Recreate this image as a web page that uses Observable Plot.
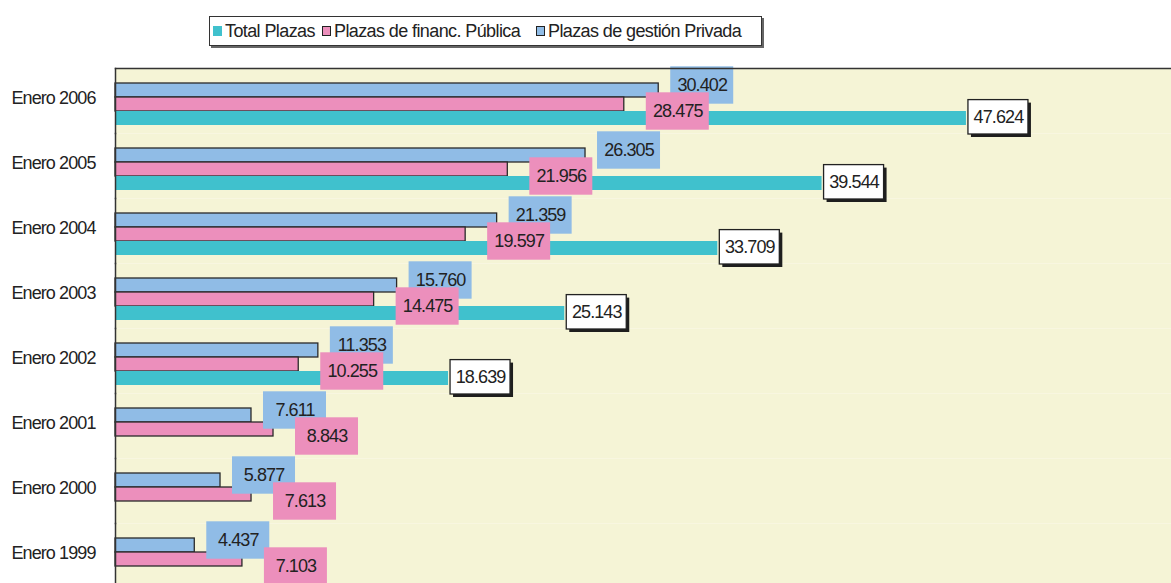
<!DOCTYPE html>
<html><head><meta charset="utf-8">
<script src="https://cdn.jsdelivr.net/npm/d3@7"></script>
<script src="https://cdn.jsdelivr.net/npm/@observablehq/plot@0.6"></script>
<style>
html,body{margin:0;padding:0;background:#fff;overflow:hidden;width:1171px;height:583px}
#legend{position:relative;height:62px;font-family:"Liberation Sans Narrow","Liberation Sans",Arial,sans-serif;font-size:18px;letter-spacing:-0.6px;color:#222;white-space:nowrap}
#legend .box{position:absolute;left:209px;top:16px;width:551px;height:28px;border:1.5px solid #333;box-shadow:2px 2px 0 #666;background:#fff}
#legend .item{position:absolute;top:0;height:28px;display:flex;align-items:center}
#legend .sw{width:9px;height:10px;margin-right:3px;box-sizing:border-box}
#chart svg{display:block}
svg text{letter-spacing:-0.9px}
</style>
</head><body>
<div id="legend"><div class="box"></div></div>
<div id="chart"></div>
<script>
const years = ["Enero 2006","Enero 2005","Enero 2004","Enero 2003","Enero 2002","Enero 2001","Enero 2000","Enero 1999"];
const series = ["Total Plazas","Plazas de financ. Pública","Plazas de gestión Privada"];
const total   = [47624, 39544, 33709, 25143, 18639, null, null, null];
const publica = [28475, 21956, 19597, 14475, 10255, 8843, 7613, 7103];
const privada = [30402, 26305, 21359, 15760, 11353, 7611, 5877, 4437];
const colors = {"Total Plazas":"#40c1cd","Plazas de financ. Pública":"#ec8fbc","Plazas de gestión Privada":"#90bce6"};
const beige = "#f5f4d6";
const font = '"Liberation Sans Narrow","Liberation Sans",Arial,sans-serif';

// legend
const box = document.querySelector("#legend .box");
const itemLeft = [3, 112, 326];
series.forEach((s, i) => {
  const it = document.createElement("div"); it.className = "item";
  it.style.left = itemLeft[i] + "px";
  const sw = document.createElement("div"); sw.className = "sw";
  sw.style.background = colors[s];
  if (i > 0) sw.style.border = "1.3px solid #222";
  const t = document.createElement("span"); t.textContent = s;
  it.append(sw, t); box.append(it);
});

const rows = years.flatMap((yr, i) => [
  {year: yr, serie: series[2], value: privada[i]},
  {year: yr, serie: series[1], value: publica[i]},
  {year: yr, serie: series[0], value: total[i]}
]).filter(d => d.value != null);
const priv = rows.filter(d => d.serie === series[2]);
const pub = rows.filter(d => d.serie === series[1]);
const tot = rows.filter(d => d.serie === series[0]);

const loc = d3.formatLocale({decimal: ",", thousands: ".", grouping: [3], currency: ["", ""]});
const fmt = loc.format(",");
const lbl = d => fmt(d.value);

const common = {x: "value", y: "serie", fy: "year"};
const txt = {fontSize: 18, fill: "#222", textAnchor: "middle", fontFamily: font};

const chart = Plot.plot({
  width: 1171, height: 526,
  marginLeft: 115, marginRight: 0, marginTop: 6, marginBottom: 0,
  style: {fontFamily: font, fontSize: "18px", color: "#222", background: "transparent"},
  x: {domain: [0, 59100], axis: null},
  y: {domain: [series[2], series[1], series[0]], paddingInner: 0, paddingOuter: 0.72, align: 0.667, axis: null},
  fy: {domain: years, padding: 0, axis: null, label: null},
  marks: [
    Plot.frame({fill: beige, stroke: null}),
    Plot.axisFy({anchor: "left", tickSize: 0, tickPadding: 20, fontSize: 18, dy: -3, label: null}),
    Plot.barX(priv, {...common, fill: colors[series[2]], stroke: "#2a2a2a", strokeWidth: 1.3}),
    Plot.barX(pub, {...common, fill: colors[series[1]], stroke: "#2a2a2a", strokeWidth: 1.3}),
    Plot.barX(tot, {...common, fill: colors[series[0]]}),
    // private labels
    Plot.barX(priv, {x1: "value", x2: "value", y: "serie", fy: "year", fill: colors[series[2]], insetLeft: 12, insetRight: -75, insetTop: -16.7, insetBottom: -6.7}),
    Plot.text(priv, {...common, text: lbl, dx: 43.5, dy: -5, ...txt}),
    // public labels
    Plot.barX(pub, {x1: "value", x2: "value", y: "serie", fy: "year", fill: colors[series[1]], insetLeft: 22, insetRight: -85, insetTop: -4.7, insetBottom: -18.7}),
    Plot.text(pub, {...common, text: lbl, dx: 53.5, dy: 7, ...txt}),
    // total labels
    Plot.barX(tot, {x1: "value", x2: "value", y: "serie", fy: "year", fill: "#1e1e1e", insetLeft: 5, insetRight: -65, insetTop: -8.4, insetBottom: -12}),
    Plot.barX(tot, {x1: "value", x2: "value", y: "serie", fy: "year", fill: "#fff", stroke: "#222", strokeWidth: 1.3, insetLeft: 2, insetRight: -62, insetTop: -11.4, insetBottom: -9}),
    Plot.text(tot, {...common, text: lbl, dx: 32, dy: -1, ...txt}),
    Plot.frame({anchor: "left", stroke: "#333", strokeWidth: 1.5}),
    Plot.frame({anchor: "top", facetAnchor: "top", stroke: "#333", strokeWidth: 1.5})
  ]
});
document.getElementById("chart").append(chart);
</script>
</body></html>
